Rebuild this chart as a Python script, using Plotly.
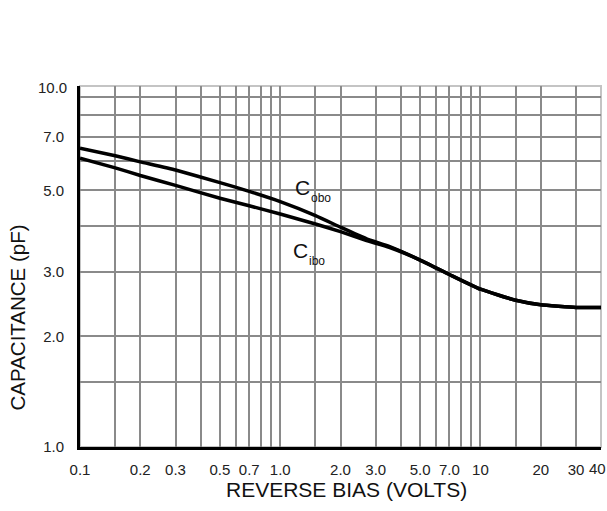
import plotly.graph_objects as go

# ---- data ----
cobo_v = [0.1, 0.15, 0.2, 0.3, 0.5, 0.7, 1.0, 1.5, 2.0, 2.7, 3.5, 5.0, 7.0, 10, 15, 20, 30, 40]
cobo_c = [6.51, 6.21, 5.98, 5.68, 5.25, 4.97, 4.66, 4.27, 3.97, 3.69, 3.52, 3.23, 2.95, 2.69, 2.51, 2.44, 2.40, 2.40]

cibo_v = [0.1, 0.15, 0.2, 0.3, 0.5, 0.7, 1.0, 1.5, 2.0, 2.7, 3.5, 5.0, 7.0, 10, 15, 20, 30, 40]
cibo_c = [6.12, 5.76, 5.49, 5.16, 4.76, 4.54, 4.31, 4.05, 3.86, 3.65, 3.50, 3.23, 2.95, 2.69, 2.51, 2.44, 2.40, 2.40]

x_tick_vals = [0.1, 0.2, 0.3, 0.5, 0.7, 1.0, 2.0, 3.0, 5.0, 7.0, 10, 20, 30, 40]
x_tick_text = ["0.1", "0.2", "0.3", "0.5", "0.7", "1.0", "2.0", "3.0", "5.0", "7.0", "10", "20", "30", ""]
x_last_label = "40"
x_minor_vals = [0.15, 0.4, 0.6, 0.8, 0.9, 1.5, 4, 6, 8, 9, 15]

y_tick_vals = [1.0, 2.0, 3.0, 5.0, 7.0]
y_tick_text = ["1.0", "2.0", "3.0", "5.0", "7.0"]
y_minor_vals = [1.5, 4, 6, 8, 9]
y_top_label = "10.0"

FONT = "Liberation Sans, Arial, sans-serif"
GRID = "#8a8a8a"

fig = go.Figure()
fig.add_trace(go.Scatter(x=cobo_v, y=cobo_c, mode="lines", name="Cobo",
                         line=dict(color="black", width=3.5, shape="spline", smoothing=0.4)))
fig.add_trace(go.Scatter(x=cibo_v, y=cibo_c, mode="lines", name="Cibo",
                         line=dict(color="black", width=3.5, shape="spline", smoothing=0.4)))

fig.update_layout(
    width=607, height=511,
    margin=dict(l=80, r=5.5, t=86, b=64, autoexpand=False),
    paper_bgcolor="white", plot_bgcolor="white",
    showlegend=False,
    font=dict(family=FONT, color="#222"),
    xaxis=dict(
        type="log", range=[-1, 1.60206], automargin=False,
        tickmode="array", tickvals=x_tick_vals, ticktext=x_tick_text,
        ticks="", ticklabelstandoff=7, ticklabeloverflow="allow",
        tickfont=dict(size=15, color="#222"),
        showgrid=True, gridcolor=GRID, gridwidth=1.5,
        minor=dict(tickmode="array", tickvals=x_minor_vals, showgrid=True,
                   gridcolor=GRID, gridwidth=1.5, ticks=""),
        showline=True, linecolor="black", linewidth=3,
        zeroline=False, fixedrange=True,
    ),
    yaxis=dict(
        type="log", range=[0, 0.9833], automargin=False,
        tickmode="array", tickvals=y_tick_vals, ticktext=y_tick_text,
        ticks="", ticklabelstandoff=10, ticklabeloverflow="allow",
        tickfont=dict(size=15, color="#222"),
        showgrid=True, gridcolor=GRID, gridwidth=1.5,
        minor=dict(tickmode="array", tickvals=y_minor_vals, showgrid=True,
                   gridcolor=GRID, gridwidth=1.5, ticks=""),
        showline=True, linecolor="black", linewidth=3,
        zeroline=False, fixedrange=True,
    ),
)

# frame (top / right light border) and white label box that interrupts the grid
fig.add_shape(type="rect", xref="paper", yref="paper", x0=0, x1=1, y0=0, y1=1,
              line=dict(color="#c4c4c4", width=2), layer="below")
fig.add_shape(type="rect", xref="paper", yref="paper", x0=0.397, x1=0.4986, y0=0.496, y1=0.759,
              line=dict(width=0), fillcolor="white", layer="between")

ann = [
    dict(text=y_top_label, x=-0.021, y=0.9945, xanchor="right", yanchor="middle",
         font=dict(size=15, color="#222")),
    dict(text=x_last_label, x=1, y=-0.0595, xanchor="center", yanchor="middle", xshift=-4,
         font=dict(size=15, color="#222")),
    dict(text="C", x=0.4267, y=0.719, xanchor="center", yanchor="middle", font=dict(size=21, color="#111")),
    dict(text="obo", x=0.462, y=0.69, xanchor="center", yanchor="middle", font=dict(size=12, color="#111")),
    dict(text="C", x=0.4238, y=0.544, xanchor="center", yanchor="middle", font=dict(size=21, color="#111")),
    dict(text="ibo", x=0.4554, y=0.514, xanchor="center", yanchor="middle", font=dict(size=12, color="#111")),
    dict(text="REVERSE BIAS (VOLTS)", x=0.512, y=-0.118, xanchor="center", yanchor="middle",
         font=dict(size=21, color="#111")),
    dict(text="CAPACITANCE (pF)", x=-0.1208, y=0.359, xanchor="center", yanchor="middle",
         textangle=-90, font=dict(size=20.5, color="#111")),
]
for a in ann:
    fig.add_annotation(xref="paper", yref="paper", showarrow=False, **a)

fig.write_html("out.html", config={"displayModeBar": False},
               post_script="document.body.style.margin='0';document.body.style.overflow='hidden';")
